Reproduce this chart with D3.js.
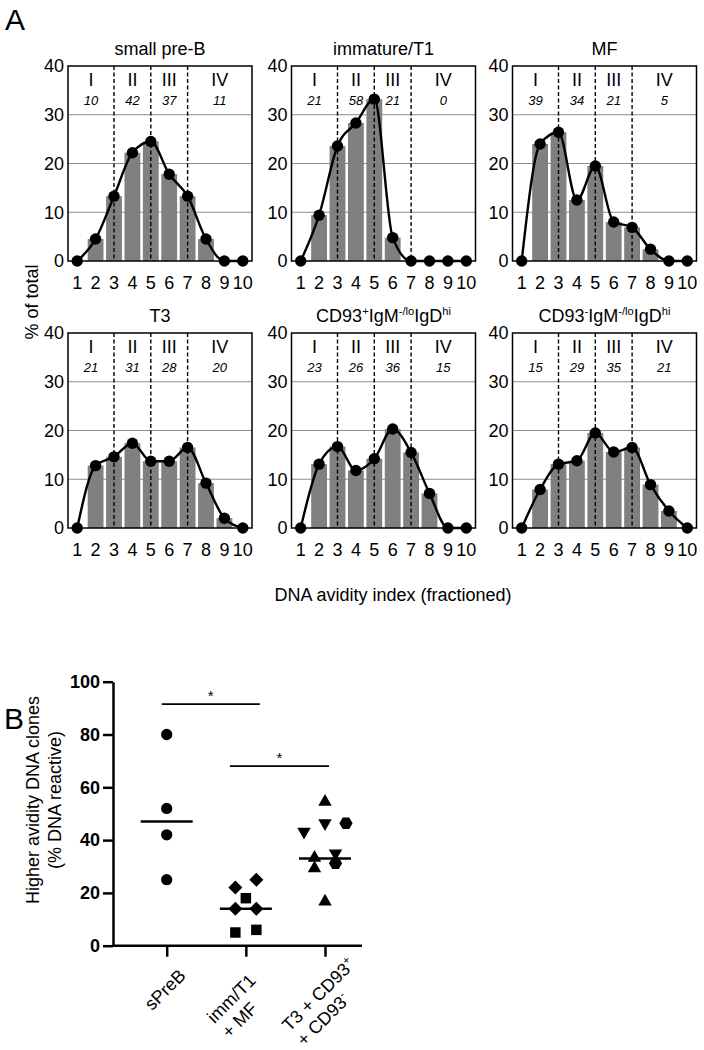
<!DOCTYPE html>
<html>
<head>
<meta charset="utf-8">
<script src="https://cdn.jsdelivr.net/npm/d3@7"></script>
<style>
  body { margin: 0; background: #fff; }
  svg { display: block; font-family: "Liberation Sans", Arial, sans-serif; }
</style>
</head>
<body>
<div id="chart"></div>
<script>
// ---- Panel A data ----
const fractions = [1, 2, 3, 4, 5, 6, 7, 8, 9, 10];
const yTicksA = [0, 10, 20, 30, 40];
const regionNames = ["I", "II", "III", "IV"];
const regionSplits = [3, 5, 7];

const smallPreB = [0, 4.5, 13.3, 22.2, 24.5, 17.8, 13.3, 4.5, 0, 0];
const immatureT1 = [0, 9.4, 23.6, 28.3, 33.2, 4.8, 0, 0, 0, 0];
const mf = [0, 24.0, 26.4, 12.5, 19.5, 8.0, 6.9, 2.4, 0, 0];
const t3 = [0, 12.8, 14.6, 17.4, 13.7, 13.7, 16.5, 9.2, 2.0, 0];
const cd93Pos = [0, 13.1, 16.7, 11.8, 14.2, 20.3, 15.5, 7.1, 0, 0];
const cd93Neg = [0, 7.9, 13.1, 13.8, 19.5, 15.6, 16.5, 8.9, 3.5, 0];

const pctSmallPreB = [10, 42, 37, 11];
const pctImmatureT1 = [21, 58, 21, 0];
const pctMF = [39, 34, 21, 5];
const pctT3 = [21, 31, 28, 20];
const pctCD93Pos = [23, 26, 36, 15];
const pctCD93Neg = [15, 29, 35, 21];

// title segments: [text, superscript?]
const titleSmallPreB = [["small pre-B", false]];
const titleImmatureT1 = [["immature/T1", false]];
const titleMF = [["MF", false]];
const titleT3 = [["T3", false]];
const titleCD93Pos = [["CD93", false], ["+", true], ["IgM", false], ["-/lo", true], ["IgD", false], ["hi", true]];
const titleCD93Neg = [["CD93", false], ["-", true], ["IgM", false], ["-/lo", true], ["IgD", false], ["hi", true]];

// ---- Panel B data ----
const groupsB = ["sPreB", "imm/T1 + MF", "T3 + CD93+ + CD93-"];
const yTicksB = [0, 20, 40, 60, 80, 100];
const bSPreB = [80, 52, 42, 25];          // circles
const bImmT1 = [22, 25, 14, 14];          // diamonds
const bMF = [18, 5, 6];                   // squares
const bT3 = [54.5, 33.3, 29.3, 16.7];     // triangles up
const bCD93Pos = [43.2, 46.4, 35];        // triangles down
const bCD93Neg = [46.4, 31.2];            // hexagons
const mediansB = [47, 14, 33];
const sigLevels = [91.5, 68];

// horizontal scatter slots (layout only)
const slotSPreB = [0, 0, 0, 0];
const slotImmT1 = [-1, 1, -1, 1];
const slotMF = [0, -1, 1];
const slotT3 = [0, -1, -1, 0];
const slotCD93Pos = [-2, 0, 1];
const slotCD93Neg = [2, 1];

const labelsB = [
  [[["sPreB", false]]],
  [[["imm/T1", false]], [["+ MF", false]]],
  [[["T3 + CD93", false], ["+", true]], [["+ CD93", false], ["-", true]]]
];
// where the end of each rotated label block sits, relative to its tick
const labelOffsetsB = [[20, 31], [11, 36], [31, 20]];

// ---- layout ----
const width = 704, height = 1050;
const fs = 18;
const svg = d3.select("#chart").append("svg").attr("width", width).attr("height", height);

const colLeft = [68, 291.5, 512.5];
const rowTop = [66, 333];
const plotW = 184, plotH = 195;
const barGrey = "#808080";

function addSegments(textSel, segs, baseSize) {
  segs.forEach(([t, sup]) => {
    const ts = textSel.append("tspan").text(t);
    if (sup) ts.attr("font-size", baseSize * 0.62).attr("baseline-shift", "65%");
  });
}

const panels = [
  [titleSmallPreB, smallPreB, pctSmallPreB],
  [titleImmatureT1, immatureT1, pctImmatureT1],
  [titleMF, mf, pctMF],
  [titleT3, t3, pctT3],
  [titleCD93Pos, cd93Pos, pctCD93Pos],
  [titleCD93Neg, cd93Neg, pctCD93Neg]
];

panels.forEach(([title, values, pct], i) => {
  const g = svg.append("g")
    .attr("transform", `translate(${colLeft[i % 3]},${rowTop[Math.floor(i / 3)]})`);
  const x = d3.scaleBand(fractions, [0, plotW]);
  const y = d3.scaleLinear([0, 40], [plotH, 0]);
  const cx = (f) => x(f) + x.bandwidth() / 2;
  const series = fractions.map((f, k) => ({ f, v: values[k] }));

  // grid lines
  g.selectAll(".grid").data(yTicksA.slice(1, -1)).join("line")
    .attr("x1", 0).attr("x2", plotW)
    .attr("y1", (d) => y(d)).attr("y2", (d) => y(d))
    .attr("stroke", "#8c8c8c").attr("stroke-width", 1.2);

  // bars
  g.selectAll(".bar").data(series.filter((d) => d.v > 0)).join("rect")
    .attr("x", (d) => x(d.f) + x.bandwidth() * 0.07)
    .attr("width", x.bandwidth() * 0.86)
    .attr("y", (d) => y(d.v))
    .attr("height", (d) => y(0) - y(d.v))
    .attr("fill", barGrey);

  // dashed region separators
  g.selectAll(".split").data(regionSplits).join("line")
    .attr("x1", cx).attr("x2", cx)
    .attr("y1", 0).attr("y2", plotH)
    .attr("stroke", "#000").attr("stroke-width", 1.4)
    .attr("stroke-dasharray", "4,2.5");

  // frame
  g.append("rect").attr("width", plotW).attr("height", plotH)
    .attr("fill", "none").attr("stroke", "#000").attr("stroke-width", 1.5);

  // region labels
  const bounds = [0, ...regionSplits.map(cx), plotW];
  const mids = regionNames.map((n, k) => (bounds[k] + bounds[k + 1]) / 2);
  g.selectAll(".rname").data(regionNames).join("text")
    .attr("x", (d, k) => mids[k]).attr("y", 20)
    .attr("text-anchor", "middle").attr("font-size", fs).text((d) => d);
  g.selectAll(".rpct").data(pct).join("text")
    .attr("x", (d, k) => mids[k]).attr("y", 39)
    .attr("text-anchor", "middle").attr("font-size", 13)
    .attr("font-style", "italic").text((d) => d);

  // smooth line and dots
  const line = d3.line().x((d) => cx(d.f)).y((d) => y(d.v)).curve(d3.curveMonotoneX);
  g.append("path").attr("d", line(series))
    .attr("fill", "none").attr("stroke", "#000").attr("stroke-width", 2.4);
  g.selectAll(".dot").data(series).join("circle")
    .attr("cx", (d) => cx(d.f)).attr("cy", (d) => y(d.v)).attr("r", 5.7).attr("fill", "#000");

  // axes
  g.append("g")
    .call(d3.axisLeft(y).tickValues(yTicksA).tickSize(0).tickPadding(4))
    .call((a) => a.select(".domain").remove())
    .call((a) => a.selectAll("text").attr("font-size", fs).attr("font-family", null).attr("fill", "#000"));
  g.append("g")
    .attr("transform", `translate(0,${plotH})`)
    .call(d3.axisBottom(x).tickSize(0).tickPadding(15))
    .call((a) => a.select(".domain").remove())
    .call((a) => a.selectAll("text").attr("font-size", fs).attr("font-family", null).attr("fill", "#000"));

  // title
  const t = g.append("text").attr("x", plotW / 2).attr("y", -11)
    .attr("text-anchor", "middle").attr("font-size", fs);
  addSegments(t, title, fs);
});

// panel letters and shared labels
svg.append("text").attr("x", 5).attr("y", 30).attr("font-size", 30).text("A");
svg.append("text").attr("x", 4).attr("y", 729).attr("font-size", 30).text("B");
svg.append("text")
  .attr("transform", "translate(38,302) rotate(-90)")
  .attr("text-anchor", "middle").attr("font-size", fs).text("% of total");
svg.append("text").attr("x", 393).attr("y", 601)
  .attr("text-anchor", "middle").attr("font-size", fs).text("DNA avidity index (fractioned)");

// ---- Panel B ----
const bLeft = 113, bRight = 362, bTop = 681.7, bBottom = 945.7;
const xB = d3.scalePoint(groupsB, [166.7, 325]);
const yB = d3.scaleLinear([0, 100], [bBottom, bTop]);
const slotW = 10.5;
const gB = svg.append("g");

gB.append("g")
  .attr("transform", `translate(${bLeft},0)`)
  .call(d3.axisLeft(yB).tickValues(yTicksB).tickSize(10).tickSizeOuter(0).tickPadding(3))
  .call((a) => a.selectAll("line, path").attr("stroke-width", 2.5))
  .call((a) => a.selectAll("text").attr("font-size", fs).attr("font-weight", "bold")
    .attr("font-family", null).attr("fill", "#000"));

gB.append("g")
  .attr("transform", `translate(0,${bBottom})`)
  .call(d3.axisBottom(xB).tickSize(11).tickSizeOuter(0).tickFormat(""))
  .call((a) => a.select(".domain").attr("d", `M${bLeft},0H${bRight}`))
  .call((a) => a.selectAll("line, path").attr("stroke-width", 2.5));

// category labels, rotated, lines left-aligned
labelsB.forEach((lines, gi) => {
  const [dx, dy] = labelOffsetsB[gi];
  const lg = gB.append("g")
    .attr("transform", `translate(${xB(groupsB[gi]) + dx},${bBottom + dy}) rotate(-45)`);
  const texts = lines.map((segs, li) => {
    const t = lg.append("text").attr("y", li * 21).attr("font-size", fs);
    addSegments(t, segs, fs);
    return t;
  });
  const w = d3.max(texts, (t) => t.node().getComputedTextLength());
  texts.forEach((t) => t.attr("x", -w));
});

// y label
const yl = gB.append("text").attr("transform", `translate(39,800) rotate(-90)`)
  .attr("text-anchor", "middle").attr("font-size", fs);
yl.append("tspan").attr("x", 0).attr("y", 0).text("Higher avidity DNA clones");
yl.append("tspan").attr("x", 0).attr("y", 22).text("(% DNA reactive)");

// markers
function hexagon(r) {
  return d3.range(6).map((k) => {
    const a = (Math.PI / 3) * k;
    return [r * Math.cos(a), r * Math.sin(a)];
  });
}
const hexPath = "M" + hexagon(6.6).join("L") + "Z";
const seriesB = [
  [bSPreB, slotSPreB, 0, d3.symbol(d3.symbolCircle, 100)(), 0],
  [bImmT1, slotImmT1, 1, d3.symbol(d3.symbolSquare, 98)(), 45],
  [bMF, slotMF, 1, d3.symbol(d3.symbolSquare, 110)(), 0],
  [bT3, slotT3, 2, d3.symbol(d3.symbolTriangle, 78)(), 0],
  [bCD93Pos, slotCD93Pos, 2, d3.symbol(d3.symbolTriangle, 78)(), 180],
  [bCD93Neg, slotCD93Neg, 2, hexPath, 0]
];
seriesB.forEach(([vals, slots, gi, path, rot]) => {
  gB.selectAll(null).data(vals).join("path")
    .attr("d", path)
    .attr("transform", (d, k) =>
      `translate(${xB(groupsB[gi]) + slots[k] * slotW},${yB(d)}) rotate(${rot})`)
    .attr("fill", "#000");
});

// medians
gB.selectAll(".median").data(mediansB).join("line")
  .attr("x1", (d, k) => xB(groupsB[k]) - 26).attr("x2", (d, k) => xB(groupsB[k]) + 26)
  .attr("y1", (d) => yB(d)).attr("y2", (d) => yB(d))
  .attr("stroke", "#000").attr("stroke-width", 2.5);

// significance bars
const sigSpans = [[xB(groupsB[0]) - 5, xB(groupsB[1]) + 14], [xB(groupsB[1]) - 16, xB(groupsB[2]) + 4]];
sigLevels.forEach((lv, k) => {
  gB.append("line")
    .attr("x1", sigSpans[k][0]).attr("x2", sigSpans[k][1])
    .attr("y1", yB(lv)).attr("y2", yB(lv))
    .attr("stroke", "#000").attr("stroke-width", 1.8);
  gB.append("text")
    .attr("x", (sigSpans[k][0] + sigSpans[k][1]) / 2).attr("y", yB(lv) - 3)
    .attr("text-anchor", "middle").attr("font-size", 15).text("*");
});
</script>
</body>
</html>
